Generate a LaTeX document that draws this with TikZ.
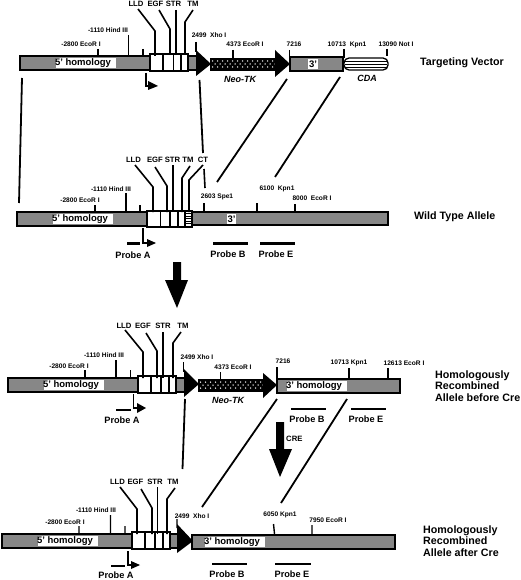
\documentclass[tikz,border=0pt]{standalone}
\usepackage{fontspec}
\setmainfont{Liberation Sans}
\definecolor{bargray}{gray}{0.53}
\tikzset{
  x=1pt,y=-1pt,
  bar/.style={draw=black,line width=1.4pt,fill=bargray},
  whitebox/.style={fill=white,draw=none},
  exon/.style={draw=black,line width=1.1pt,fill=white},
  tick/.style={draw=black,line width=1.4pt},
  lead/.style={draw=black,line width=1.6pt},
  cross/.style={draw=black,line width=1.8pt},
  probe/.style={draw=black,line width=2.1pt},
  site/.style={inner sep=0pt,font=\fontsize{6.6}{7}\selectfont\bfseries},
  dom/.style={inner sep=0pt,font=\fontsize{7.7}{9}\selectfont\bfseries},
  hom/.style={inner sep=0pt,font=\fontsize{9.5}{10}\selectfont\bfseries},
  probelab/.style={inner sep=0pt,font=\fontsize{9.2}{10}\selectfont\bfseries},
  cassette/.style={inner sep=0pt,font=\fontsize{9}{10}\selectfont\bfseries\itshape},
  title/.style={inner sep=0pt,align=left,anchor=west,font=\fontsize{10.7}{11.6}\selectfont\bfseries},
  solidblack/.style={fill=black,draw=none},
  neobox/.style={fill=black,draw=black,line width=0.8pt},
}
\newcommand{\neodots}[2]{%
  \foreach \ix in {0,...,12}{%
    \fill[white] (#1+2.5+\ix*5,#2+3) circle (0.75);
    \fill[white] (#1+5+\ix*5,#2+6) circle (0.75);
    \fill[white] (#1+2.5+\ix*5,#2+9) circle (0.75);
  }}
\begin{document}
\begin{tikzpicture}
\useasboundingbox (0,0) rectangle (520,580);

% ---------- Targeting vector ----------
\draw[bar] (20,56) rectangle (150,70);
\fill[whitebox] (56,58) rectangle (116,68);
\node[hom] (h1) at (83,63) {5' homology};
\draw[bar] (188,56) rectangle (197,70);
\draw[exon] (150,54) rectangle (188,71);
\draw[exon] (163,54)--(163,71) (173.5,54)--(173.5,71) (181,54)--(181,71);
\draw[tick] (98,49)--(98,56) (128.5,35)--(128.5,56) (143,49)--(143,56) (196,42)--(196,52) (233,50)--(233,58) (289.5,50)--(289.5,58) (344,49)--(344,58) (387,49)--(387,56);
\draw[neobox] (210,58) rectangle (275,70);
\neodots{210}{58}
\fill[solidblack] (275,50)--(290,64)--(275,77)--cycle;
\fill[solidblack] (196,50)--(211,64)--(196,76)--cycle;
\draw[bar] (290,57) rectangle (343,71);
\fill[whitebox] (308,59) rectangle (318,69);
\node[hom] (t3a) at (313,64) {3'};
\draw[draw=black,line width=1.3pt,fill=white,rounded corners=5pt] (344,58) rectangle (388,70);
\draw[black,line width=0.9pt] (345,61)--(387,61) (345,64)--(387,64) (345,67)--(387,67);
\node[cassette] (neo1) at (240,79) {Neo-TK};
\node[cassette] (cda) at (367,78) {CDA};
\node[dom] (l1) at (136,4) {LLD};
\node[dom] (e1) at (155.5,4) {EGF};
\node[dom] (s1) at (173.5,4) {STR};
\node[dom] (m1) at (193,4) {TM};
\draw[lead] (138,9)--(155,31)--(155,56);
\draw[lead] (159,10)--(170,29)--(170,55);
\draw[lead] (176,10)--(176,55);
\draw[lead] (193,10)--(185,22)--(185,55);
\node[site] at (108,30) {-1110 Hind III};
\node[site] at (81,44) {-2800 EcoR I};
\node[site] at (209,35) {2499\ \ Xho I};
\node[site] at (245,44) {4373 EcoR I};
\node[site] at (294,44) {7216};
\node[site] at (347,45) {10713\ \ Kpn1};
\node[site] at (396,44) {13090 Not I};
\node[title] (tv) at (420,63) {Targeting Vector};
\draw[lead] (146,73)--(146,86)--(150,86);
\fill[solidblack] (148,81)--(158,86)--(148,90)--cycle;

% ---------- cross lines 1 ----------
\coordinate (a1) at (22,78); \coordinate (a2) at (19,203);
\coordinate (b1) at (199.5,80); \coordinate (b2) at (203,153);
\coordinate (c1) at (287,79); \coordinate (c2) at (217,182);
\coordinate (d1) at (340,77); \coordinate (d2) at (275,177);
\draw[cross] (a1)--(a2) (b1)--(b2) (c1)--(c2) (d1)--(d2);
\draw[lead] (204,169)--(205,188);

% ---------- Wild type ----------
\draw[bar] (17,212) rectangle (147,226);
\draw[bar] (192,212) rectangle (388,225);
\fill[whitebox] (53,214) rectangle (113,224);
\node[hom] (h2) at (80,219) {5' homology};
\fill[whitebox] (227,214) rectangle (236,224);
\node[hom] (t3b) at (231.5,219) {3'};
\draw[exon] (147,211) rectangle (192,227);
\draw[exon] (160.5,211)--(160.5,227) (170,211)--(170,227) (178,211)--(178,227);
\draw[exon] (185,211) rectangle (192,227);
\foreach \yy in {213.5,216,218.5,221,223.5}{\draw[black,line width=0.9pt] (185,\yy)--(192,\yy);}
\draw[tick] (95,205)--(95,212) (126,193)--(126,212) (140,205)--(140,212) (204,203)--(204,212) (257,203)--(257,212) (295,204)--(295,212);
\node[dom] (l2) at (133.5,160) {LLD};
\node[dom] (e2) at (155,160) {EGF};
\node[dom] (s2) at (172.5,160) {STR};
\node[dom] (m2) at (188,160) {TM};
\node[dom] (c2l) at (203,160) {CT};
\draw[lead] (135,165)--(153,187)--(153,212);
\draw[lead] (155,167)--(167,186)--(167,212);
\draw[lead] (173,165)--(173,212);
\draw[lead] (190,166)--(182,178)--(182,212);
\draw[lead] (203,165)--(189,180)--(189,212);
\node[site] at (111,189) {-1110 Hind III};
\node[site] at (80,200) {-2800 EcoR I};
\node[site] at (217,197) {2603 Spe1};
\node[site] at (277,189) {6100\ \ Kpn1};
\node[site] at (312,198) {8000\ \ EcoR I};
\node[title] (wt) at (414,217) {Wild Type Allele};
\draw[lead] (143,228)--(143,243)--(147,243);
\fill[solidblack] (147,239)--(156,243)--(147,247)--cycle;
\draw[probe] (127,243.5)--(140,243.5) (213,243.5)--(248,243.5) (260,243.5)--(295,243.5);
\node[probelab] at (133,255) {Probe A};
\node[probelab] at (228,254) {Probe B};
\node[probelab] at (276,254) {Probe E};

% ---------- big arrow ----------
\fill[solidblack] (173,262)--(181,262)--(181,280)--(188,280)--(177,308)--(165,280)--(173,280)--cycle;

% ---------- Before Cre ----------
\draw[bar] (8,378) rectangle (138,392);
\fill[whitebox] (44,380) rectangle (104,390);
\node[hom] (h3) at (71,385) {5' homology};
\draw[bar] (176,378) rectangle (185,392);
\draw[exon] (138,376) rectangle (176,393);
\draw[exon] (151,376)--(151,393) (161,376)--(161,393) (169,376)--(169,393);
\draw[neobox] (198,379) rectangle (263,391);
\neodots{198}{379}
\fill[solidblack] (263,373)--(277,385)--(263,398)--cycle;
\fill[solidblack] (184,369)--(199,384)--(184,397)--cycle;
\draw[bar] (277,379) rectangle (400,393);
\fill[whitebox] (287,381) rectangle (347,391);
\node[hom] (t3c) at (314,386) {3' homology};
\draw[tick] (85,370)--(85,378) (116,360)--(116,378) (130.5,370)--(130.5,378) (183.5,362)--(183.5,372) (220.5,372)--(220.5,379) (277,367)--(277,379) (349,368)--(349,379) (388,368)--(388,379);
\node[cassette] (neo2) at (228,400) {Neo-TK};
\node[dom] (l3) at (124,326) {LLD};
\node[dom] (e3) at (143,326) {EGF};
\node[dom] (s3) at (163,326) {STR};
\node[dom] (m3) at (183,326) {TM};
\draw[lead] (125,330)--(143,352)--(143,378);
\draw[lead] (146,333)--(157,351)--(157,378);
\draw[lead] (163,332)--(163,378);
\draw[lead] (181,332)--(173,343)--(173,378);
\node[site] at (104,355) {-1110 Hind III};
\node[site] at (69,366) {-2800 EcoR I};
\node[site] at (197,357) {2499 Xho I};
\node[site] at (233,367) {4373 EcoR I};
\node[site] at (283,361) {7216};
\node[site] at (349,363) {10713 Kpn1};
\node[site] at (404,363) {12613 EcoR I};
\node[title] (hr1) at (435,386) {Homologously\\Recombined\\Allele before Cre};
\draw[lead] (133.5,394)--(133.5,408)--(137,408);
\fill[solidblack] (137,403)--(146,408)--(137,413)--cycle;
\draw[probe] (116,410)--(131,410) (291,409)--(326,409) (351,409)--(386,409);
\node[probelab] at (122,420) {Probe A};
\node[probelab] at (307,419) {Probe B};
\node[probelab] at (366,419) {Probe E};

% ---------- cross lines 2 ----------
\coordinate (e1c) at (185,399); \coordinate (e2c) at (182.5,469);
\coordinate (f1) at (277,399); \coordinate (f2) at (202,507);
\coordinate (g1) at (347,399); \coordinate (g2) at (281,503);
\draw[cross] (e1c)--(e2c) (f1)--(f2) (g1)--(g2);

% ---------- CRE arrow ----------
\fill[solidblack] (276,422)--(284,422)--(284,449)--(292,449)--(280,477)--(269,449)--(276,449)--cycle;
\node[dom,anchor=west] (cre) at (286,439) {CRE};

% ---------- After Cre ----------
\draw[bar] (2,534) rectangle (132,548);
\fill[whitebox] (38,536) rectangle (98,546);
\node[hom] (h4) at (65,541) {5' homology};
\draw[bar] (170,534) rectangle (178,548);
\draw[exon] (132,532) rectangle (170,549);
\draw[exon] (145,532)--(145,549) (155,532)--(155,549) (163,532)--(163,549);
\draw[bar] (192,535) rectangle (395,549);
\fill[whitebox] (205,537) rectangle (265,547);
\node[hom] (t3d) at (232,542) {3' homology};
\fill[solidblack] (177,524)--(193,541)--(177,553)--cycle;
\draw[tick] (79,526)--(79,534) (110.5,515)--(110.5,534) (125,526)--(125,534) (177,519)--(177,528) (273.5,524)--(274.5,534) (312,525)--(312,534);
\node[dom] (l4) at (117.5,482) {LLD};
\node[dom] (e4) at (135.5,482) {EGF};
\node[dom] (s4) at (155,482) {STR};
\node[dom] (m4) at (173,482) {TM};
\draw[lead] (120,487)--(137,509)--(137,534);
\draw[lead] (141,489)--(152,508)--(152,534);
\draw[lead] (157.5,487)--(157.5,534);
\draw[lead] (175,488)--(167,499)--(167,534);
\node[site] at (96,510) {-1110 Hind III};
\node[site] at (65,522) {-2800 EcoR I};
\node[site] at (192,516) {2499\ \ Xho I};
\node[site] at (280,515) {6050 Kpn1};
\node[site] at (328,520) {7950 EcoR I};
\node[title] (hr2) at (423,541) {Homologously\\Recombined\\Allele after Cre};
\draw[lead] (128,551)--(128,565)--(131,565);
\fill[solidblack] (131,561)--(140,565)--(131,569)--cycle;
\draw[probe] (111,566)--(125,566) (212,564)--(247,564) (275,564)--(311,564);
\node[probelab] at (116,575) {Probe A};
\node[probelab] at (227,574) {Probe B};
\node[probelab] at (292,574) {Probe E};
\end{tikzpicture}
\end{document}
